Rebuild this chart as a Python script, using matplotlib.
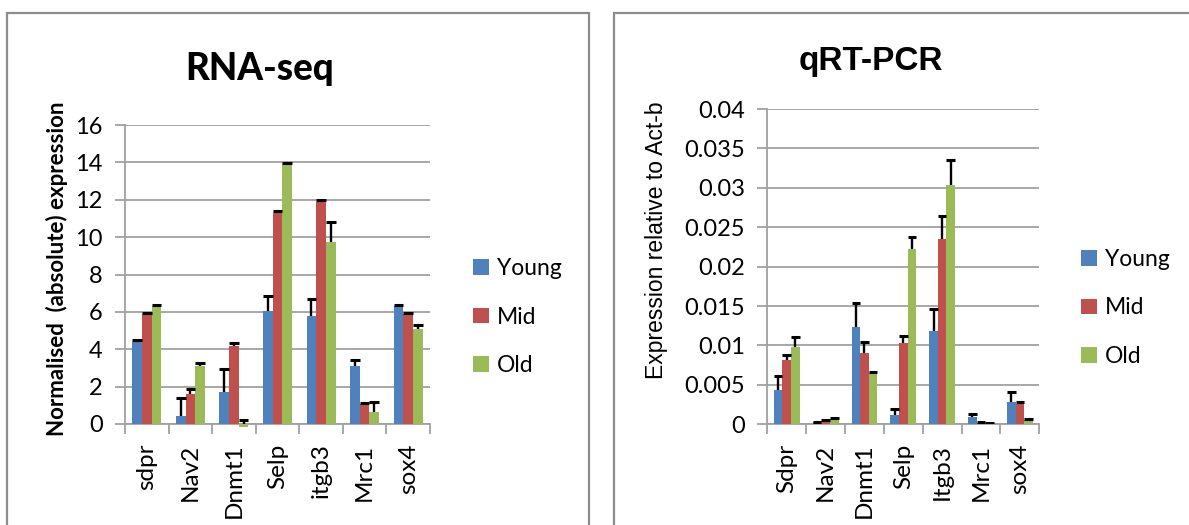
import matplotlib
matplotlib.use("Agg")
import matplotlib.pyplot as plt
import numpy as np
from matplotlib.patches import Rectangle

# RNA-seq normalised expression
rna_genes = ["sdpr", "Nav2", "Dnmt1", "Selp", "itgb3", "Mrc1", "sox4"]
rna_young = [4.37, 0.45, 1.71, 6.05, 5.78, 3.12, 6.30]
rna_mid = [5.89, 1.62, 4.17, 11.29, 11.90, 1.07, 5.89]
rna_old = [6.33, 3.10, -0.15, 13.90, 9.72, 0.62, 5.10]
rna_young_err = [0.12, 0.94, 1.23, 0.80, 0.91, 0.32, 0.05]
rna_mid_err = [0.05, 0.27, 0.18, 0.12, 0.09, 0.03, 0.05]
rna_old_err = [0.05, 0.18, 0.38, 0.05, 1.09, 0.56, 0.20]

# qRT-PCR expression relative to Act-b
pcr_genes = ["Sdpr", "Nav2", "Dnmt1", "Selp", "Itgb3", "Mrc1", "sox4"]
pcr_young = [0.00431, 0.00025, 0.01230, 0.00114, 0.01188, 0.00093, 0.00287]
pcr_mid = [0.00812, 0.00040, 0.00905, 0.01032, 0.02355, 0.00020, 0.00261]
pcr_old = [0.00985, 0.00067, 0.00647, 0.02225, 0.03037, 0.00010, 0.00058]
pcr_young_err = [0.00178, 0.00005, 0.00305, 0.00084, 0.00271, 0.00042, 0.00127]
pcr_mid_err = [0.00068, 0.00010, 0.00139, 0.00092, 0.00288, 0.00005, 0.00018]
pcr_old_err = [0.00119, 0.00013, 0.00013, 0.00152, 0.00313, 0.00002, 0.00015]

groups = ["Young", "Mid", "Old"]
colors = ["#4F81BD", "#C0504D", "#9BBB59"]

W, H = 1189, 525
fig = plt.figure(figsize=(W / 100, H / 100), dpi=100)

SANS = ["Lato", "DejaVu Sans"]
ARIAL = ["Liberation Sans", "DejaVu Sans"]
GRID = "#a0a0a0"


def px_rect(x0, y0, x1, y1):
    return [x0 / W, 1 - y1 / H, (x1 - x0) / W, (y1 - y0) / H]


# panel frames
for (x0, x1) in [(7, 589), (614, 1195)]:
    fig.patches.append(Rectangle((x0 / W, -0.05), (x1 - x0) / W, 1 - 13 / H + 0.05,
                                 transform=fig.transFigure, fill=False,
                                 edgecolor="#8c8c8c", linewidth=1.6, zorder=0))


def bar_panel(ax, genes, series, errs, ymax, ystep, fmt):
    n = len(genes)
    x = np.arange(n)
    bw = 0.222
    for i, (vals, err, c) in enumerate(zip(series, errs, colors)):
        xs = x + (i - 1) * bw
        vals = np.asarray(vals)
        top = vals + np.asarray(err)
        ax.bar(xs, vals, width=bw, color=c, zorder=3, label=groups[i], clip_on=False)
        # upper error bars only
        ax.vlines(xs, vals, top, color="black", linewidth=1.7, zorder=4)
        ax.hlines(top, xs - bw * 0.5, xs + bw * 0.5, color="black",
                  linewidth=2.2, zorder=4)
    ax.set_xlim(-0.5, n - 0.5)
    ax.set_ylim(0, ymax)
    ticks = np.arange(0, ymax + ystep / 2, ystep)
    ax.set_yticks(ticks)
    ax.set_yticklabels([fmt(t) for t in ticks], fontsize=17, family=SANS)
    ax.yaxis.grid(True, color=GRID, linewidth=1.3, zorder=0)
    ax.set_axisbelow(True)
    for s in ["top", "right"]:
        ax.spines[s].set_visible(False)
    for s in ["left", "bottom"]:
        ax.spines[s].set_color(GRID)
        ax.spines[s].set_linewidth(1.3)
    ax.tick_params(axis="y", length=7, color=GRID, width=1.3, pad=9)
    ax.set_xticks(np.arange(-0.5, n, 1.0), minor=False)
    ax.set_xticklabels([])
    ax.tick_params(axis="x", which="major", length=7, color=GRID, width=1.3)
    ax.set_xticks(x, minor=True)
    ax.set_xticklabels(genes, minor=True, rotation=90, fontsize=17.5, family=SANS)
    ax.tick_params(axis="x", which="minor", length=0, pad=14)


# RNA-seq panel
ax1 = fig.add_axes(px_rect(125, 125, 430, 424))
bar_panel(ax1, rna_genes, [rna_young, rna_mid, rna_old],
          [rna_young_err, rna_mid_err, rna_old_err], 16, 2,
          lambda t: f"{int(t)}")
fig.text(260 / W, 1 - 80 / H, "RNA-seq", ha="center", va="baseline",
         fontsize=26.5, fontweight="black", family=SANS)
fig.text(57 / W, 1 - 269 / H, "Normalised  (absolute) expression", rotation=90,
         ha="center", va="center", fontsize=16, fontweight="bold", family=SANS)

# qRT-PCR panel
ax2 = fig.add_axes(px_rect(767.3, 109, 1039.3, 424.3))
bar_panel(ax2, pcr_genes, [pcr_young, pcr_mid, pcr_old],
          [pcr_young_err, pcr_mid_err, pcr_old_err], 0.04, 0.005,
          lambda t: "0" if t == 0 else f"{t:.3f}".rstrip("0"))
fig.text(871 / W, 1 - 70 / H, "qRT-PCR", ha="center", va="baseline",
         fontsize=24, fontweight="bold", family=ARIAL)
fig.text(656 / W, 1 - 240 / H, "Expression relative to Act-b", rotation=90,
         ha="center", va="center", fontsize=16.5, family=ARIAL)

# legends
for ax, (lx, ly) in [(ax1, (473, 258)), (ax2, (1081, 249))]:
    ax.legend(loc="upper left", bbox_to_anchor=(lx / W, 1 - ly / H),
              bbox_transform=fig.transFigure, frameon=False,
              prop={"family": SANS, "size": 16.5}, handlelength=0.68,
              handleheight=0.68, handletextpad=0.35, labelspacing=1.2,
              borderaxespad=0, borderpad=0)

fig.savefig("out.png", dpi=100)
